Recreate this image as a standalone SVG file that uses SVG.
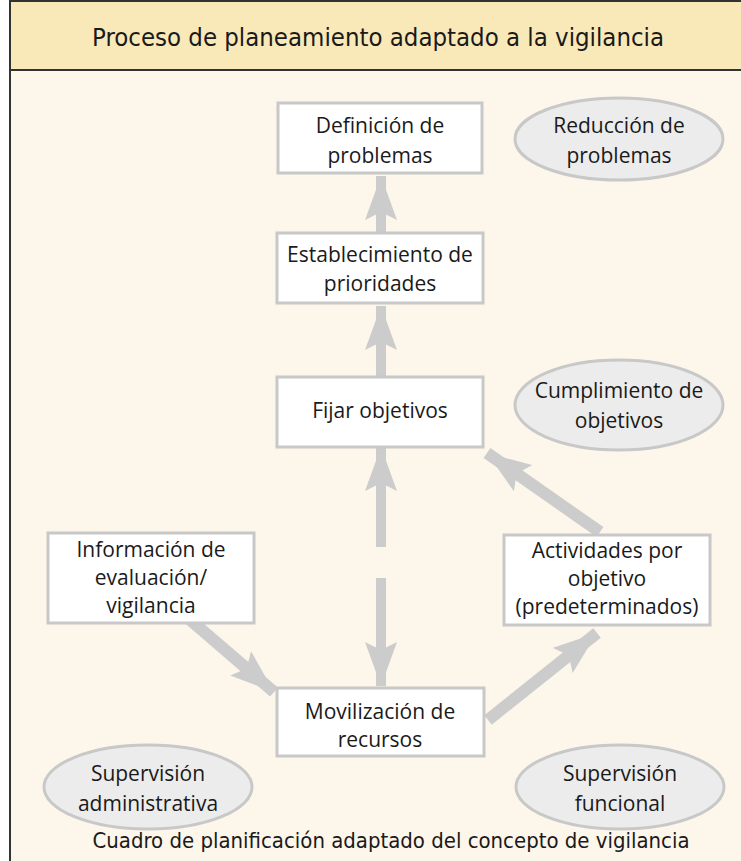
<svg xmlns="http://www.w3.org/2000/svg" width="741" height="861" viewBox="0 0 741 861">
<style>
.box{fill:#ffffff;stroke:#c8c8c8;stroke-width:3}
.ell{fill:#ececec;stroke:#c8c8c8;stroke-width:3}
.t{font-family:"Open Sans","DejaVu Sans",sans-serif;font-size:21px;fill:#1a1a1a;text-anchor:middle}
.cap{font-family:"DejaVu Sans Condensed","Liberation Sans",sans-serif;font-size:25px;fill:#1a1a1a;text-anchor:middle}
.ar{stroke:#cccccc;fill:none}
.bd{stroke:#333;stroke-width:2}
</style>
<defs>
<marker id="ah" markerUnits="userSpaceOnUse" markerWidth="46" markerHeight="32" refX="44" refY="16" orient="auto">
<path d="M0,0 L44,16 L0,32 L8,16 Z" fill="#cccccc"/>
</marker>
</defs>
<rect x="0" y="0" width="741" height="861" fill="#ffffff"/>
<rect x="10" y="1" width="731" height="860" fill="#fdf6ea"/>
<rect x="10" y="1" width="731" height="69" fill="#f9e9b9"/>
<line class="bd" x1="10" y1="1" x2="741" y2="1"/>
<line class="bd" x1="10" y1="0" x2="10" y2="861"/>
<line class="bd" x1="10" y1="70" x2="741" y2="70"/>
<text class="cap" x="378" y="46" textLength="572" lengthAdjust="spacingAndGlyphs">Proceso de planeamiento adaptado a la vigilancia</text>

<g id="connectors">
<line class="ar" stroke-width="10" x1="381" y1="233" x2="381" y2="176" marker-end="url(#ah)"/>
<line class="ar" stroke-width="10" x1="381" y1="377" x2="381" y2="306" marker-end="url(#ah)"/>
<line class="ar" stroke-width="10" x1="381" y1="547" x2="381" y2="447" marker-end="url(#ah)"/>
<line class="ar" stroke-width="10" x1="381" y1="578" x2="381" y2="686" marker-end="url(#ah)"/>
<line class="ar" stroke-width="12" x1="167" y1="600" x2="274" y2="692" marker-end="url(#ah)"/>
<line class="ar" stroke-width="12" x1="488" y1="720" x2="597" y2="633" marker-end="url(#ah)"/>
<line class="ar" stroke-width="12" x1="600" y1="532" x2="487" y2="453" marker-end="url(#ah)"/>
</g>

<g id="n-definicion"><rect class="box" x="278" y="103" width="204" height="70"/><text class="t" x="380" y="133">Definición de</text><text class="t" x="380" y="163">problemas</text></g>
<g id="n-establecimiento"><rect class="box" x="277" y="233" width="206" height="70"/><text class="t" x="380" y="262">Establecimiento de</text><text class="t" x="380" y="291">prioridades</text></g>
<g id="n-fijar"><rect class="box" x="277" y="377" width="206" height="70"/><text class="t" x="380" y="418">Fijar objetivos</text></g>
<g id="n-informacion"><rect class="box" x="48" y="533" width="206" height="90"/><text class="t" x="151" y="557">Información de</text><text class="t" x="151" y="585">evaluación/</text><text class="t" x="151" y="613">vigilancia</text></g>
<g id="n-actividades"><rect class="box" x="504" y="535" width="206" height="90"/><text class="t" x="607" y="558">Actividades por</text><text class="t" x="607" y="586">objetivo</text><text class="t" x="607" y="614">(predeterminados)</text></g>
<g id="n-movilizacion"><rect class="box" x="277" y="688" width="207" height="68"/><text class="t" x="380" y="719">Movilización de</text><text class="t" x="380" y="747">recursos</text></g>

<g id="e-reduccion"><ellipse class="ell" cx="619" cy="139" rx="104" ry="41"/><text class="t" x="619" y="133">Reducción de</text><text class="t" x="619" y="163">problemas</text></g>
<g id="e-cumplimiento"><ellipse class="ell" cx="619" cy="405" rx="104" ry="45"/><text class="t" x="619" y="398">Cumplimiento de</text><text class="t" x="619" y="428">objetivos</text></g>
<g id="e-sup-admin"><ellipse class="ell" cx="148" cy="787" rx="104" ry="42"/><text class="t" x="148" y="781">Supervisión</text><text class="t" x="148" y="811">administrativa</text></g>
<g id="e-sup-func"><ellipse class="ell" cx="620" cy="787" rx="104" ry="42"/><text class="t" x="620" y="781">Supervisión</text><text class="t" x="620" y="811">funcional</text></g>

<text class="cap" style="font-size:21px" x="391" y="848" textLength="597" lengthAdjust="spacingAndGlyphs">Cuadro de planificación adaptado del concepto de vigilancia</text>
</svg>
